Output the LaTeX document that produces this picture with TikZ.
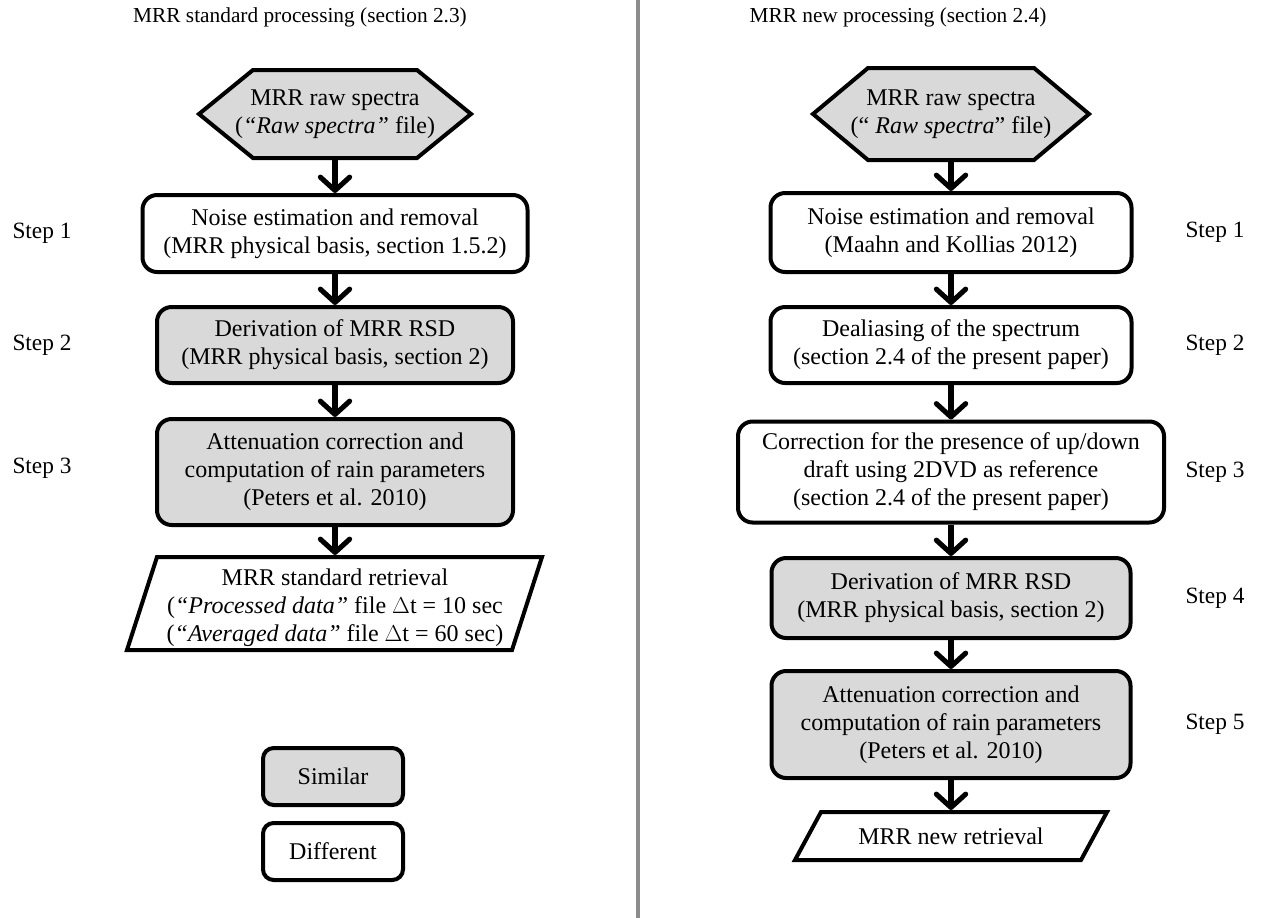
\documentclass[tikz,border=0pt]{standalone}
\usepackage{fontspec}
\setmainfont{Liberation Serif}
\usetikzlibrary{arrows.meta,calc}
\newlength\px \setlength\px{0.75pt}
\definecolor{boxgray}{HTML}{D9D9D9}
\definecolor{divgray}{HTML}{8C8C8C}
\begin{document}
\begin{tikzpicture}[x=0.75pt,y=-0.75pt,
  font=\fontsize{18}{21}\selectfont,
  box/.style={draw, line width=3pt, rounded corners=11pt, align=center, inner sep=0pt},
  gbox/.style={box, fill=boxgray},
  wbox/.style={box, fill=white},
  legbox/.style={draw, line width=3pt, rounded corners=8pt, align=center, inner sep=0pt, minimum width=140*\px, minimum height=57*\px},
  holder/.style={inner sep=0pt, outer sep=1.5pt, align=center},
  outline/.style={draw, line width=3pt, line join=miter},
  arr/.style={line width=3.8pt, -{Straight Barb[length=10pt,width=22pt,round]}},
  lbl/.style={inner sep=0pt, font=\fontsize{17.5}{21}\selectfont},
  ttl/.style={inner sep=0pt, font=\fontsize{16}{19}\selectfont}
]
\useasboundingbox (0,0) rectangle (1261,918);
\fill[white] (0,0) rectangle (1261,918);

% divider
\coordinate (dtop) at (638,0);
\coordinate (dbot) at (638,918);
\draw[divgray, line width=2.4pt] (dtop) -- (dbot);

% titles
\node[ttl] (T1) at (300,17) {MRR standard processing (section 2.3)};
\node[ttl] (T2) at (898,17) {MRR new processing (section 2.4)};

% ---------------- left column ----------------
\draw[outline, fill=boxgray] (199,114) -- (253,70) -- (417,70) -- (471,114) -- (417,158) -- (253,158) -- cycle;
\node[holder, minimum width=272*\px, minimum height=88*\px] (L0) at (335,114)
  {MRR raw spectra\\(\textit{“Raw spectra”} file)};

\node[wbox, minimum width=385*\px, minimum height=77*\px] (L1) at (335,233.5)
  {Noise estimation and removal\\(MRR physical basis, section 1.5.2)};
\node[gbox, minimum width=356*\px, minimum height=76*\px] (L2) at (335,345)
  {Derivation of MRR RSD\\(MRR physical basis, section 2)};
\node[gbox, minimum width=356*\px, minimum height=106*\px] (L3) at (335,472)
  {Attenuation correction and\\computation of rain parameters\\(Peters et al. 2010)};

\draw[outline, fill=white] (157,557) -- (542,557) -- (512,650) -- (127,650) -- cycle;
\node[holder, minimum width=385*\px, minimum height=93*\px] (L4) at (335,603.5) {};
\node[inner sep=0pt, align=center] (L4t) at (335,607.5)
  {MRR standard retrieval\\(\textit{“Processed data”} file $\Delta$t = 10 sec\\(\textit{“Averaged data”} file $\Delta$t = 60 sec)};

\draw[arr] (L0.south) -- (L1.north);
\draw[arr] (L1.south) -- (L2.north);
\draw[arr] (L2.south) -- (L3.north);
\draw[arr] (L3.south) -- (L4.north);

\node[lbl] (S1) at (42,233.5) {Step 1};
\node[lbl] (S2) at (42,345) {Step 2};
\node[lbl] (S3) at (42,468) {Step 3};

% legend
\node[legbox, fill=boxgray] (sim) at (333,776.5) {Similar};
\node[legbox, fill=white] (dif) at (333,851.5) {Different};

% ---------------- right column ----------------
\draw[outline, fill=boxgray] (813,114) -- (868,68) -- (1034,68) -- (1089,114) -- (1034,160) -- (868,160) -- cycle;
\node[holder, minimum width=276*\px, minimum height=92*\px] (R0) at (951,114)
  {MRR raw spectra\\(“ \textit{Raw spectra}” file)};

\node[wbox, minimum width=361*\px, minimum height=79*\px] (R1) at (951,232.5)
  {Noise estimation and removal\\(Maahn and Kollias 2012)};
\node[wbox, minimum width=361*\px, minimum height=76*\px] (R2) at (951,345)
  {Dealiasing of the spectrum\\(section 2.4 of the present paper)};
\node[wbox, minimum width=426*\px, minimum height=101*\px] (R3) at (951,472)
  {Correction for the presence of up/down\\draft using 2DVD as reference\\(section 2.4 of the present paper)};
\node[gbox, minimum width=359*\px, minimum height=80*\px] (R4) at (951,598)
  {Derivation of MRR RSD\\(MRR physical basis, section 2)};
\node[gbox, minimum width=359*\px, minimum height=107*\px] (R5) at (951,724.5)
  {Attenuation correction and\\computation of rain parameters\\(Peters et al. 2010)};

\draw[outline, fill=white] (821,812) -- (1107,812) -- (1081,860) -- (795,860) -- cycle;
\node[holder, minimum width=286*\px, minimum height=48*\px] (R6) at (951,836)
  {MRR new retrieval};

\draw[arr] (R0.south) -- (R1.north);
\draw[arr] (R1.south) -- (R2.north);
\draw[arr] (R2.south) -- (R3.north);
\draw[arr] (R3.south) -- (R4.north);
\draw[arr] (R4.south) -- (R5.north);
\draw[arr] (R5.south) -- (R6.north);

\node[lbl] (Q1) at (1215,232.5) {Step 1};
\node[lbl] (Q2) at (1215,345) {Step 2};
\node[lbl] (Q3) at (1215,472) {Step 3};
\node[lbl] (Q4) at (1215,598) {Step 4};
\node[lbl] (Q5) at (1215,724.5) {Step 5};
\end{tikzpicture}
\end{document}
